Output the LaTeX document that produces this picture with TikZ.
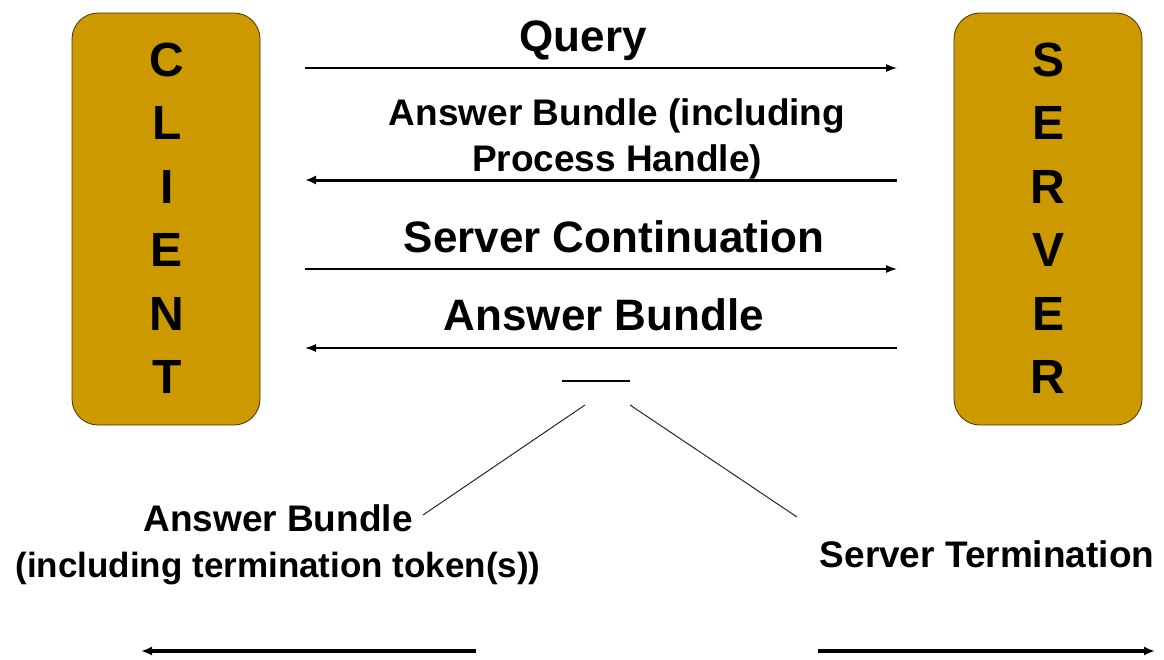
\documentclass[tikz,border=0pt]{standalone}
\usepackage{fontspec}
\setmainfont{Liberation Sans}
\usetikzlibrary{arrows.meta}
\definecolor{boxgold}{RGB}{204,153,0}
\definecolor{boxedge}{RGB}{70,50,0}
\tikzset{
	hostbox/.style={draw=boxedge, line width=0.8pt, fill=boxgold, rounded corners=26pt,
		minimum width=188pt, minimum height=412pt, outer sep=0pt, inner sep=0pt},
	hostletter/.style={font=\fontsize{48}{48}\selectfont\bfseries, inner sep=0pt},
	msg/.style={line width=1.4pt, -{Latex[length=11pt,width=8pt]}},
	msgbold/.style={line width=3pt, -{Latex[length=11pt,width=9pt]}},
	biglabel/.style={font=\fontsize{44}{50}\selectfont\bfseries, inner sep=0pt, anchor=base},
	smalllabel/.style={font=\fontsize{37}{46}\selectfont\bfseries, inner sep=0pt, align=center},
	leader/.style={line width=1pt, black!85}
}

\begin{document}
\begin{tikzpicture}[x=1pt,y=-1pt]
			%%%%% START %%%%%
			\useasboundingbox (0,0) rectangle (1164,659);
			
			\node[hostbox] (client) at (166,219) {};
			\node[hostbox] (server) at (1048,219) {};
			\foreach \ch [count=\i from 0] in {C,L,I,E,N,T}
				\node[hostletter] (cl\i) at (167,{60+63.4*\i}) {\ch};
			\foreach \ch [count=\i from 0] in {S,E,R,V,E,R}
				\node[hostletter] (sv\i) at (1048,{60+63.4*\i}) {\ch};
			
			% messages
			\node[biglabel] (query) at (583,51) {Query};
			\draw[msg, shorten <=45pt, shorten >=57pt] (client.east |- 0,68) -- (server.west |- 0,68);
			
			\node[smalllabel] (handlemsg) at (617,139) {Answer Bundle (including\\Process Handle)};
			\draw[msgbold, shorten <=57pt, shorten >=45pt] (server.west |- 0,180) -- (client.east |- 0,180);
			
			\node[biglabel] (contmsg) at (614,252) {Server Continuation};
			\draw[msg, shorten <=45pt, shorten >=57pt] (client.east |- 0,269) -- (server.west |- 0,269);
			
			\node[biglabel] (bundlemsg) at (604,330) {Answer Bundle};
			\draw[msg, shorten <=57pt, shorten >=45pt] (server.west |- 0,348) -- (client.east |- 0,348);
			
			% the two endings
			\coordinate (dashA) at (562,381);
			\coordinate (dashB) at (630,381);
			\draw[line width=2.5pt] (dashA) -- (dashB);
			
			\coordinate (forkL) at (585,405);
			\coordinate (legL) at (423,515);
			\coordinate (forkR) at (630,405);
			\coordinate (legR) at (797,517);
			\draw[leader] (forkL) -- (legL);
			\draw[leader] (forkR) -- (legR);
			
			\node[smalllabel] (endbundle) at (278,545) {Answer Bundle\\{\fontsize{35}{46}\selectfont(including termination token(s))}};
			\node[smalllabel, anchor=base] (endserver) at (987,567) {Server Termination};
			
			\coordinate (retL1) at (476,651);
			\coordinate (retL2) at (141,651);
			\coordinate (retR1) at (818,651);
			\coordinate (retR2) at (1155,651);
			\draw[msgbold, line width=3.5pt] (retL1) -- (retL2);
			\draw[msgbold, line width=3.5pt] (retR1) -- (retR2);
			%%%%% END %%%%%
\end{tikzpicture}
\end{document}
